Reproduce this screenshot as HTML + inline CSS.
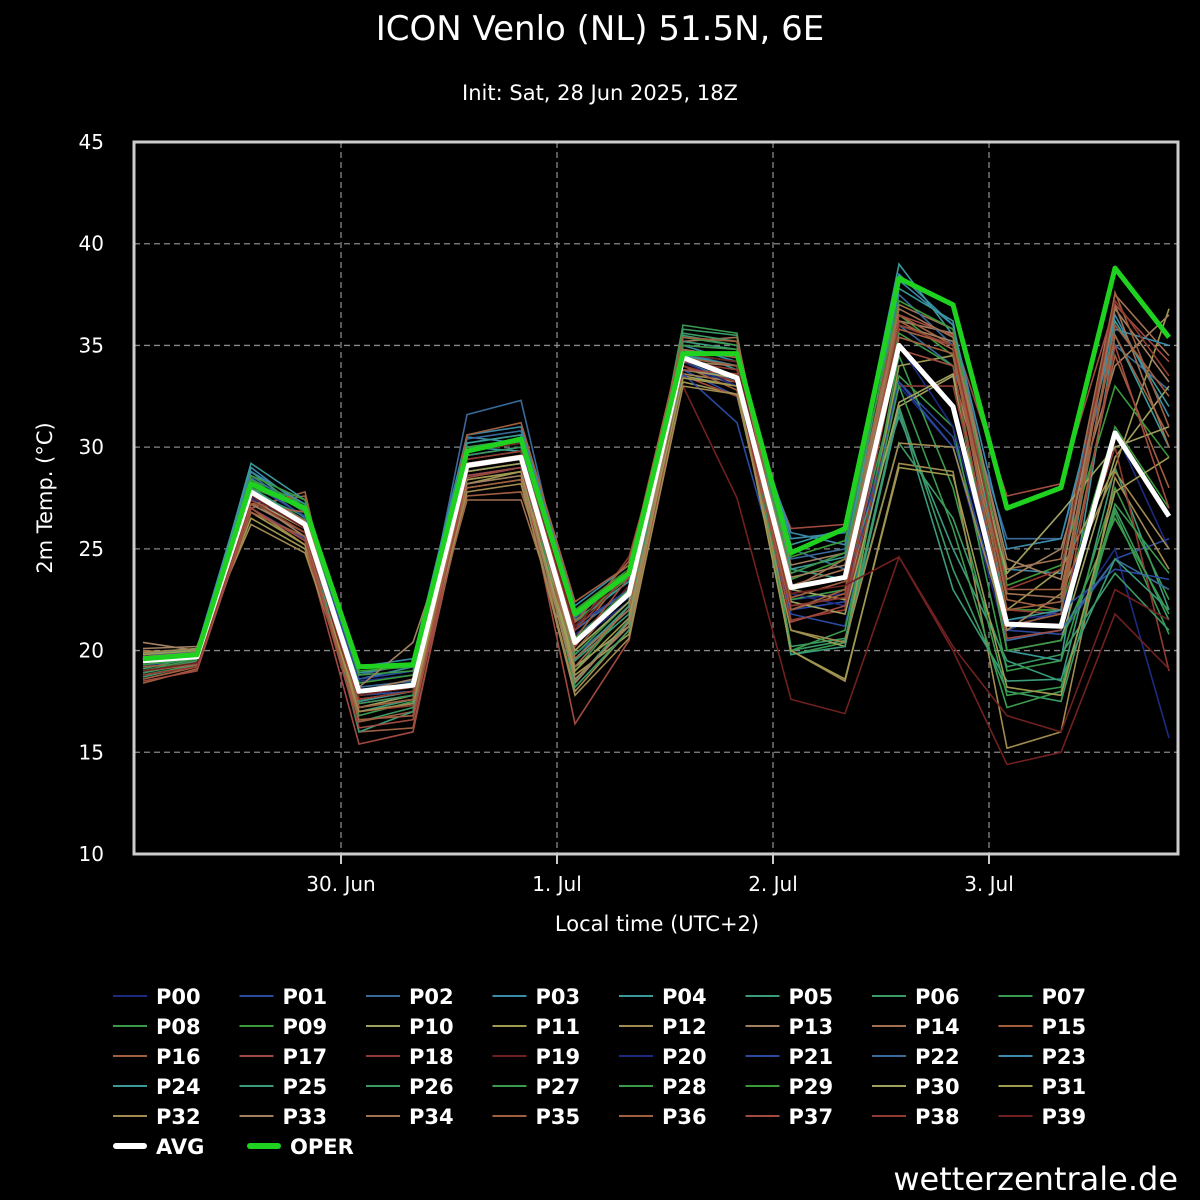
<!DOCTYPE html>
<html><head><meta charset="utf-8">
<style>
html,body{margin:0;padding:0;background:#000;}
body{width:1200px;height:1200px;overflow:hidden;position:relative;font-family:"DejaVu Sans","Liberation Sans",sans-serif;color:#fff;}
svg{position:absolute;left:0;top:0;}
</style></head>
<body>
<svg id="chart" width="1200" height="1200" xmlns="http://www.w3.org/2000/svg">
<text x="600" y="40" fill="#fff" font-size="34" text-anchor="middle" font-family="DejaVu Sans, sans-serif">ICON Venlo (NL) 51.5N, 6E</text>
<text x="600" y="100" fill="#fff" font-size="21" text-anchor="middle" font-family="DejaVu Sans, sans-serif">Init: Sat, 28 Jun 2025, 18Z</text>
<g id="grid"></g>
<g id="series"></g>
<rect x="134" y="142" width="1044" height="712" fill="none" stroke="#ccc" stroke-width="3"/>
<g id="axes"></g>
<text x="657" y="931" fill="#fff" font-size="21" text-anchor="middle">Local time (UTC+2)</text>
<text transform="translate(52,498) rotate(-90)" fill="#fff" font-size="21" text-anchor="middle">2m Temp. (°C)</text>
<g id="legend"></g>
<text x="1178" y="1190" fill="#fff" font-size="32" text-anchor="end">wetterzentrale.de</text>
</svg>
<script>
const hours=[-22,-16,-10,-4,2,8,14,20,26,32,38,44,50,56,62,68,74,80,86,92];
const yTicks=[10,15,20,25,30,35,40,45];
const xTickHours=[0,24,48,72];
const xTickLabels=["30. Jun","1. Jul","2. Jul","3. Jul"];
const avg=[19.5,19.7,27.8,26.2,18.0,18.3,29.1,29.5,20.4,22.8,34.4,33.4,23.1,23.6,35.0,32.0,21.3,21.2,30.7,26.6];
const oper=[19.6,19.8,28.2,27.0,19.2,19.3,29.8,30.4,21.8,23.8,34.6,34.6,24.8,26.0,38.3,37.0,27.0,28.0,38.8,35.4];
const members=[
[19.2,19.6,27.5,26.0,18.5,18.8,29.0,29.4,20.8,22.6,34.0,33.0,22.5,22.8,33.0,30.0,20.5,21.0,25.0,15.7],
[19.4,19.8,27.0,25.5,17.8,18.0,28.6,29.0,19.8,22.0,33.8,32.5,22.0,22.4,33.2,30.5,21.0,20.8,24.5,25.5],
[19.6,20.0,28.5,26.5,18.2,18.5,31.6,32.3,21.0,23.0,34.2,33.2,25.0,24.0,36.0,34.0,25.5,25.5,35.0,32.8],
[19.8,20.1,29.0,27.0,18.6,19.2,30.5,30.2,21.5,23.4,35.0,34.2,25.5,25.8,38.5,36.0,24.0,23.8,36.5,31.5],
[19.0,19.5,28.8,26.8,17.5,18.0,30.0,29.8,20.5,22.8,34.8,33.8,25.2,26.0,39.0,35.5,20.0,19.5,35.5,30.0],
[18.9,19.4,28.0,26.3,17.0,17.6,29.2,29.5,19.5,21.8,35.5,35.0,24.0,23.5,31.5,25.0,19.5,18.5,29.0,22.0],
[19.1,19.7,27.8,26.6,16.5,17.2,29.6,30.0,18.5,21.5,35.8,35.5,20.0,20.5,32.0,24.0,18.0,17.5,27.0,21.5],
[18.8,19.3,28.2,27.0,16.8,17.5,30.2,30.6,19.0,22.2,36.0,35.6,19.8,20.4,34.5,28.0,17.8,18.2,26.8,20.8],
[19.3,19.6,27.6,26.2,17.8,18.2,29.8,30.4,21.8,23.6,34.4,34.0,22.5,23.0,33.5,31.0,19.0,19.5,28.0,22.5],
[19.5,19.9,28.4,27.2,18.4,18.8,30.0,30.2,22.0,24.0,34.8,34.4,23.5,24.5,36.5,34.5,22.0,22.0,31.0,27.0],
[19.4,19.8,27.2,25.8,17.2,17.8,28.8,29.2,19.2,21.2,33.5,33.0,23.0,22.5,32.0,33.5,20.0,20.5,29.5,33.0],
[19.6,19.7,26.5,25.0,17.0,17.4,28.2,28.8,18.8,20.8,33.2,32.6,21.0,20.2,34.0,34.5,22.0,24.0,29.0,36.8],
[19.9,20.0,27.0,25.2,17.6,18.0,28.0,28.4,18.0,21.0,33.6,33.2,20.0,18.5,29.2,28.8,15.2,16.0,28.5,24.0],
[20.4,20.0,27.4,25.6,18.0,18.6,28.4,28.8,18.4,21.4,34.6,34.6,24.2,24.8,36.2,35.6,23.5,25.0,34.0,36.5],
[20.0,19.8,27.8,26.0,17.4,17.8,27.4,27.4,19.2,22.2,35.2,35.4,23.0,24.5,37.0,35.8,24.0,24.5,37.5,34.5],
[19.2,19.4,27.0,27.8,16.5,17.0,27.6,27.8,20.0,23.0,34.2,33.0,22.0,22.8,36.5,35.0,23.0,23.0,35.5,30.5],
[18.4,19.1,27.2,27.6,16.0,16.2,28.0,28.4,20.6,24.0,34.0,32.8,21.5,22.0,35.8,35.0,22.5,22.0,34.5,28.0],
[18.8,19.2,26.8,25.2,15.4,16.0,28.5,29.0,16.4,20.5,33.5,32.5,26.0,26.2,36.5,35.5,27.6,28.2,37.0,34.2],
[18.6,19.2,27.0,25.4,17.0,17.3,29.0,29.6,21.0,24.6,34.0,33.2,21.5,22.0,33.0,33.0,22.0,21.8,30.0,19.0],
[19.0,19.5,27.4,25.8,17.4,17.8,29.4,29.8,20.2,23.2,33.0,27.5,17.6,16.9,24.6,20.0,14.4,15.0,21.8,19.1],
[19.4,19.8,27.6,26.0,18.0,18.4,28.6,29.0,20.4,22.4,34.2,33.0,22.8,22.2,35.0,31.0,21.5,21.8,30.8,25.0],
[19.7,20.0,28.2,26.6,18.6,19.0,29.6,30.0,21.2,23.0,33.6,31.2,21.8,21.2,33.2,30.0,21.0,22.0,24.0,23.5],
[19.6,19.9,28.6,26.8,18.8,19.4,30.4,30.8,21.6,23.8,34.6,34.0,24.5,25.0,37.5,35.0,20.5,21.0,24.5,23.0],
[19.8,20.1,28.8,27.2,19.2,19.6,30.6,31.0,22.2,24.2,33.8,33.4,25.8,25.2,38.2,36.0,25.0,25.5,35.8,35.0],
[19.5,19.7,29.2,27.4,18.9,19.3,30.2,30.6,21.4,23.4,34.5,34.0,24.0,24.6,37.8,36.2,21.5,22.0,36.2,32.0],
[18.7,19.3,28.0,26.4,16.0,17.0,29.2,29.6,19.6,22.2,35.2,34.8,19.8,20.2,31.8,23.0,18.5,18.6,24.5,22.0],
[18.9,19.5,27.8,26.2,17.4,17.8,29.6,30.0,18.2,21.0,35.6,35.2,20.2,20.6,30.2,26.5,19.2,19.8,23.8,21.0],
[19.0,19.6,28.4,26.8,18.0,18.4,30.0,30.4,19.8,22.4,35.4,35.0,20.0,21.0,33.0,26.0,17.2,18.0,27.2,23.8],
[19.3,19.7,28.0,27.0,18.8,19.0,29.4,29.8,20.6,23.0,35.0,34.8,23.8,24.8,35.6,34.0,20.0,20.5,26.5,21.8],
[19.4,19.8,28.6,27.4,19.0,19.2,29.8,30.2,21.4,23.6,34.6,34.2,24.6,25.4,37.2,35.8,23.2,24.2,33.0,29.5],
[19.6,19.9,27.4,26.0,17.6,18.0,28.8,29.2,20.0,22.4,33.8,33.4,22.4,21.8,32.2,33.6,23.8,26.8,30.0,31.0],
[19.8,20.0,26.8,25.2,17.2,17.6,28.4,28.8,19.0,21.6,33.4,33.0,20.0,18.6,29.0,28.6,18.2,17.8,27.8,29.5],
[19.9,20.1,26.2,24.8,17.0,17.4,27.8,28.2,17.8,20.6,33.0,32.6,21.0,20.4,30.2,30.0,21.0,22.8,28.8,25.0],
[20.1,20.2,27.2,25.8,18.2,20.4,28.2,28.6,18.6,21.2,34.2,34.0,23.6,24.2,36.0,35.2,24.5,23.5,36.8,33.2],
[19.7,19.9,27.8,26.4,17.8,18.2,29.0,29.4,19.6,22.0,34.8,34.4,23.2,24.0,36.8,35.4,22.8,22.6,37.0,30.0],
[19.0,19.3,27.2,26.8,17.2,17.6,30.6,31.2,22.4,24.2,35.4,35.2,22.6,23.4,36.2,34.8,22.0,22.4,36.0,32.5],
[18.6,19.2,26.8,25.6,16.6,16.8,29.2,29.6,21.4,24.4,34.4,34.0,22.0,23.0,35.4,34.6,21.2,21.8,37.6,31.0],
[18.5,19.0,27.0,25.4,16.2,16.6,28.6,29.0,20.2,23.6,33.8,33.6,21.4,22.2,34.8,34.0,20.6,21.0,35.0,27.0],
[18.8,19.2,27.4,25.8,17.6,18.0,29.4,29.8,21.0,23.8,34.2,33.8,22.2,22.6,36.0,35.0,23.0,24.0,37.2,33.5],
[19.0,19.4,27.6,26.0,17.8,18.2,29.8,30.2,21.2,24.0,34.6,34.2,22.8,23.2,24.6,20.2,16.8,16.0,23.0,21.5]
];
const palette=["#1e2a80","#2a4aa0","#3a6a9a","#3a8aaa","#3a9a9a","#3a9a7a","#3a9a64","#3a9a50","#3a9a4a","#3a9a3a","#a0a060","#a09a50","#a08a50","#a08060","#a07050","#a06040","#a06040","#a04a40","#903a30","#702020"];
const NS="http://www.w3.org/2000/svg";
const X0=134,X1=1178,Y0=854,Y1=142,H0=-23,H1=93;
function sx(h){return X0+(h-H0)/(H1-H0)*(X1-X0);}
function sy(v){return Y0-(v-10)/(45-10)*(Y0-Y1);}
function mk(tag,attrs,parent){const e=document.createElementNS(NS,tag);for(const k in attrs)e.setAttribute(k,attrs[k]);parent.appendChild(e);return e;}
const grid=document.getElementById('grid'),axes=document.getElementById('axes'),series=document.getElementById('series'),legend=document.getElementById('legend');
yTicks.forEach(t=>{
  if(t>10&&t<45){const l=mk('line',{x1:X0,x2:X1,y1:sy(t),y2:sy(t),stroke:'#888','stroke-width':1.3,'stroke-dasharray':'6,4'},grid);
  
  }
  const tx=mk('text',{x:104,y:sy(t)+7,fill:'#fff','font-size':20,'text-anchor':'end'},axes);tx.textContent=t;
  
  
});
xTickHours.forEach((h,i)=>{
  const l=mk('line',{x1:sx(h),x2:sx(h),y1:Y1,y2:Y0,stroke:'#888','stroke-width':1.3,'stroke-dasharray':'6,4'},grid);
  
  
  const tk=mk('line',{x1:sx(h),x2:sx(h),y1:Y0,y2:Y0+10,stroke:'#ccc','stroke-width':2},axes);
  
  
  const tx=mk('text',{x:sx(h),y:891,fill:'#fff','font-size':20,'text-anchor':'middle'},axes);tx.textContent=xTickLabels[i];
  
  
});
function pts(arr){return arr.map((v,i)=>sx(hours[i]).toFixed(1)+','+sy(v).toFixed(1)).join(' ');}
members.forEach((m,i)=>{
  const p=mk('polyline',{points:pts(m),fill:'none',stroke:palette[i%20],'stroke-width':1.6},series);
  
  
});
const pa=mk('polyline',{points:pts(avg),fill:'none',stroke:'#fff','stroke-width':5,'stroke-linejoin':'round'},series);


const po=mk('polyline',{points:pts(oper),fill:'none',stroke:'#1fd21f','stroke-width':5,'stroke-linejoin':'round'},series);


const names=[];for(let i=0;i<40;i++)names.push('P'+String(i).padStart(2,'0'));
names.forEach((n,i)=>{
  const c=i%8,r=Math.floor(i/8),x=113+c*126.5,y=996+r*30;
  const l=mk('line',{x1:x,x2:x+34,y1:y,y2:y,stroke:palette[i%20],'stroke-width':2},legend);
  
  
  const t=mk('text',{x:x+43,y:y+8,fill:'#fff','font-size':21,'font-weight':'bold'},legend);t.textContent=n;
  
  
});
[['AVG','#fff',0],['OPER','#1fd21f',1]].forEach(([n,col,c])=>{
  const x=113+c*134,y=1146;
  const l=mk('line',{x1:x+3,x2:x+31,y1:y,y2:y,stroke:col,'stroke-width':6,'stroke-linecap':'round'},legend);
  
  
  const t=mk('text',{x:x+43,y:y+8,fill:'#fff','font-size':21,'font-weight':'bold'},legend);t.textContent=n;
  
  
});
</script>
</body></html>
